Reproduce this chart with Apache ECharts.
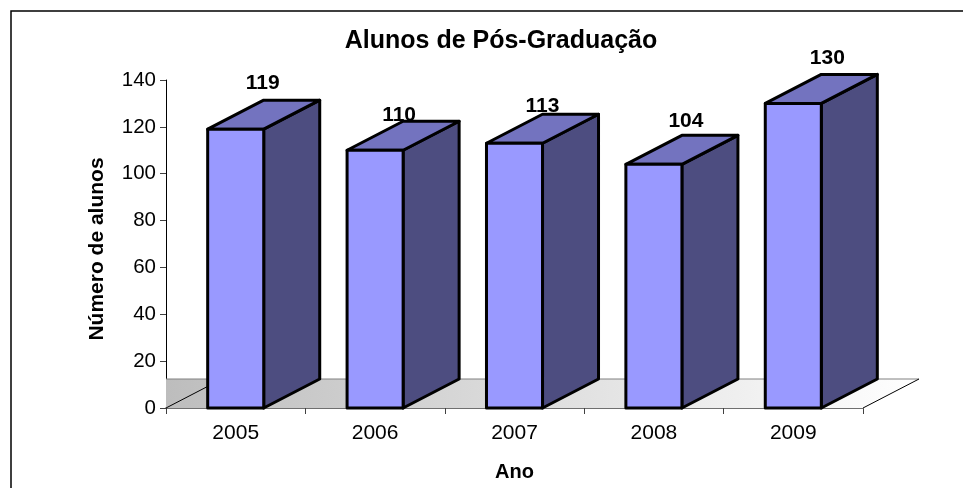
<!DOCTYPE html>
<html>
<head>
<meta charset="utf-8">
<style>
  html, body { margin: 0; padding: 0; background: #fff; }
  #main { width: 963px; height: 488px; }
</style>
<script src="https://cdn.jsdelivr.net/npm/echarts@6/dist/echarts.min.js"></script>
</head>
<body>
<div id="main"></div>
<script>
var anos = ['2005', '2006', '2007', '2008', '2009'];
var alunos = [119, 110, 113, 104, 130];
// os rotulos do original nao ficam alinhados, acerto fino em px
var labelDx = [-1, -4, 0, 4, 6];
var labelDy = [-17, -6, -8, -14, -16];

var FONT = '"Liberation Sans", Arial, sans-serif';
var DEPTH_X = 56, DEPTH_Y = 29;
var GAP_BAR = 0.402;   // largura da barra / largura da categoria

var chart = echarts.init(document.getElementById('main'), null, { renderer: 'canvas' });

function renderFloor(params, api) {
  var bandW = api.size([1, 0])[0];
  var o = api.coord([0, 0]);
  var left = o[0] - bandW / 2, right = left + bandW * anos.length, y = o[1];
  return {
    type: 'group',
    children: [
      {
        type: 'rect',
        shape: { x: left, y: y - DEPTH_Y, width: right - left + DEPTH_X, height: DEPTH_Y },
        style: {
          fill: new echarts.graphic.LinearGradient(0, 0, 1, 0, [
            { offset: 0, color: '#bdbdbd' },
            { offset: 1, color: '#ffffff' }
          ])
        }
      },
      { // canto branco a direita do piso
        type: 'polygon',
        shape: { points: [[right, y + 0.5], [right + DEPTH_X, y - DEPTH_Y], [right + DEPTH_X, y + 0.5]] },
        style: { fill: '#fff' }
      },
      {
        type: 'line',
        shape: { x1: left, y1: y - DEPTH_Y, x2: right + DEPTH_X, y2: y - DEPTH_Y },
        style: { stroke: '#808080', lineWidth: 1 }
      },
      {
        type: 'line',
        shape: { x1: left, y1: y, x2: left + DEPTH_X, y2: y - DEPTH_Y },
        style: { stroke: '#000', lineWidth: 1 }
      },
      {
        type: 'line',
        shape: { x1: right, y1: y, x2: right + DEPTH_X, y2: y - DEPTH_Y },
        style: { stroke: '#000', lineWidth: 1 }
      }
    ]
  };
}

function renderBar(params, api) {
  var i = api.value(0), v = api.value(1);
  var base = api.coord([i, 0]), top = api.coord([i, v]);
  var w = api.size([1, 0])[0] * GAP_BAR;
  var x0 = base[0] - w / 2, x1 = base[0] + w / 2;
  var y0 = base[1], y1 = top[1];
  var edge = { stroke: '#000', lineWidth: 3, lineJoin: 'round' };
  return {
    type: 'group',
    children: [
      {
        type: 'text',
        style: {
          text: String(v),
          x: base[0] + DEPTH_X / 2 + labelDx[i],
          y: y1 - DEPTH_Y + labelDy[i],
          align: 'center',
          verticalAlign: 'middle',
          font: 'bold 21px ' + FONT,
          fill: '#000'
        }
      },
      {
        type: 'polygon',
        shape: { points: [[x1, y1], [x1 + DEPTH_X, y1 - DEPTH_Y], [x1 + DEPTH_X, y0 - DEPTH_Y], [x1, y0]] },
        style: Object.assign({ fill: '#4d4d80' }, edge)
      },
      {
        type: 'polygon',
        shape: { points: [[x0, y1], [x0 + DEPTH_X, y1 - DEPTH_Y], [x1 + DEPTH_X, y1 - DEPTH_Y], [x1, y1]] },
        style: Object.assign({ fill: '#7373bf' }, edge)
      },
      {
        type: 'rect',
        shape: { x: x0, y: y1, width: w, height: y0 - y1 },
        style: Object.assign({ fill: '#9999ff' }, edge)
      }
    ]
  };
}

chart.setOption({
  animation: false,
  backgroundColor: '#fff',
  title: {
    text: 'Alunos de Pós-Graduação',
    left: 496,
    top: 24,
    textAlign: 'center',
    textStyle: { fontFamily: FONT, fontSize: 25, fontWeight: 'bold', color: '#000' }
  },
  graphic: [{
    type: 'rect',
    silent: true,
    shape: { x: 11, y: 11, width: 1000, height: 600 },
    style: { fill: 'none', stroke: '#000', lineWidth: 1.5 }
  }],
  grid: { left: 166, top: 80, width: 697, height: 328 },
  xAxis: {
    type: 'category',
    data: anos,
    name: 'Ano',
    nameLocation: 'middle',
    nameGap: 54,
    nameTextStyle: { fontFamily: FONT, fontSize: 20, fontWeight: 'bold', color: '#000' },
    axisLine: { onZero: false, lineStyle: { color: '#404040', width: 1.5 } },
    axisTick: { show: true, alignWithLabel: false, length: 6, lineStyle: { color: '#404040' } },
    axisLabel: { fontFamily: FONT, fontSize: 21, color: '#000', margin: 15 },
    splitLine: { show: false }
  },
  yAxis: {
    type: 'value',
    min: 0,
    max: 140,
    interval: 20,
    name: 'Número de alunos',
    nameLocation: 'middle',
    nameGap: 58,
    nameTextStyle: { fontFamily: FONT, fontSize: 21, fontWeight: 'bold', color: '#000', padding: [0, 10, 0, 0] },
    axisLine: { show: true, lineStyle: { color: '#000', width: 1 } },
    axisTick: { show: true, length: 6, lineStyle: { color: '#404040' } },
    axisLabel: { fontFamily: FONT, fontSize: 20.5, color: '#000', margin: 10 },
    splitLine: { show: false }
  },
  series: [
    {
      type: 'custom',
      z: 1,
      clip: false,
      renderItem: renderFloor,
      data: [[0, 0]],
      encode: { x: 0, y: 1 },
      silent: true
    },
    {
      type: 'custom',
      z: 2,
      clip: false,
      renderItem: renderBar,
      data: anos.map(function (a, i) { return [i, alunos[i]]; }),
      encode: { x: 0, y: 1 }
    }
  ]
});
</script>
</body>
</html>
